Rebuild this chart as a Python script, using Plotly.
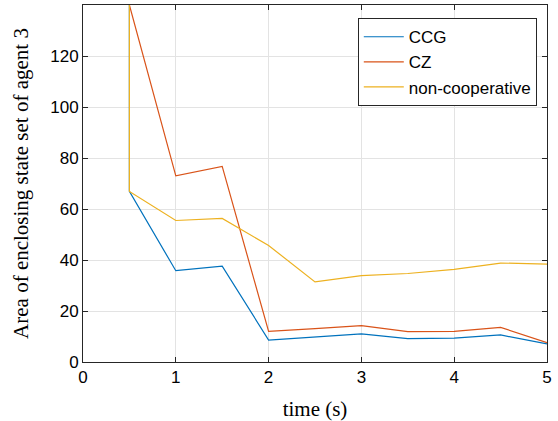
import plotly.graph_objects as go

t_ccg = [0.5, 0.5, 1, 1.5, 2, 2.5, 3, 3.5, 4, 4.5, 5]
ccg = [140, 66.9, 35.8, 37.6, 8.6, 9.9, 11.0, 9.2, 9.4, 10.6, 7.1]

t_cz = [0.5, 1, 1.5, 2, 2.5, 3, 3.5, 4, 4.5, 5]
cz = [140, 73.0, 76.7, 12.0, 13.1, 14.3, 11.9, 12.0, 13.6, 7.6]

t_nc = [0.5, 0.5, 1, 1.5, 2, 2.5, 3, 3.5, 4, 4.5, 5]
nc = [140, 66.9, 55.5, 56.3, 45.7, 31.4, 33.9, 34.7, 36.3, 38.8, 38.4]

x_ticks = [0, 1, 2, 3, 4, 5]
y_ticks = [0, 20, 40, 60, 80, 100, 120]

fig = go.Figure()
fig.add_trace(go.Scatter(x=t_ccg, y=ccg, mode="lines", name="CCG",
                         line=dict(color="#0072BD", width=1.2)))
fig.add_trace(go.Scatter(x=t_cz, y=cz, mode="lines", name="CZ",
                         line=dict(color="#D95319", width=1.2)))
fig.add_trace(go.Scatter(x=t_nc, y=nc, mode="lines", name="non-cooperative",
                         line=dict(color="#EDB120", width=1.2)))

axis_common = dict(showgrid=True, gridcolor="#e3e3e3", gridwidth=1,
                   showline=True, linecolor="#262626", linewidth=1, mirror="ticks",
                   ticks="inside", ticklen=5, tickcolor="#262626", zeroline=False,
                   automargin=False,
                   tickfont=dict(family="Liberation Sans, Arial", size=17, color="#000"))

fig.update_xaxes(range=[0, 5], tickvals=x_ticks,
                 title=dict(text="time (s)", font=dict(family="Liberation Serif, serif", size=21, color="#000")),
                 **axis_common)
fig.update_yaxes(range=[0, 140], tickvals=y_ticks,
                 title=dict(text="Area of enclosing state set of agent 3", font=dict(family="Liberation Serif, serif", size=21, color="#000")),
                 **axis_common)

fig.update_layout(
    width=558, height=421,
    margin=dict(l=83, r=11, t=5, b=59),
    plot_bgcolor="white", paper_bgcolor="white",
    legend=dict(x=0.978, y=0.963, xanchor="right", yanchor="top",
                bgcolor="white", bordercolor="#262626", borderwidth=1,
                font=dict(family="Liberation Sans, Arial", size=17, color="#000"),
                tracegroupgap=0, itemwidth=40),
    showlegend=True,
)

fig.write_html("out.html", config={"displayModeBar": False},
               post_script="document.body.style.margin='0';document.body.style.overflow='hidden';")
